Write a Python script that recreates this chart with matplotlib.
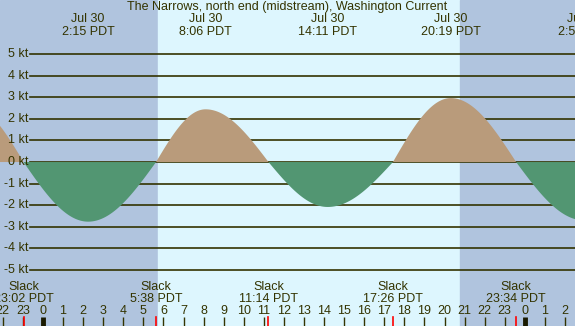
import numpy as np
import matplotlib
matplotlib.use('Agg')
import matplotlib.pyplot as plt
import matplotlib.transforms as mtransforms

# hours relative to Jul 30 00:00 PDT
event_hours = [-3.6, -0.967, 2.25, 5.633, 8.1, 11.233, 14.183, 17.433, 20.317, 23.567, 26.95]
event_speeds = [2.6, 0.0, -2.76, 0.0, 2.44, 0.0, -2.08, 0.0, 2.96, 0.0, -2.7]
event_labels = [None, 'Slack\n23:02 PDT', 'Jul 30\n2:15 PDT', 'Slack\n5:38 PDT',
                'Jul 30\n8:06 PDT', 'Slack\n11:14 PDT', 'Jul 30\n14:11 PDT', 'Slack\n17:26 PDT',
                'Jul 30\n20:19 PDT', 'Slack\n23:34 PDT', 'Jul 31\n2:57 PDT']
sunrise = 5.73
sunset = 20.77
ytick_vals = [5, 4, 3, 2, 1, 0, -1, -2, -3, -4, -5]

W, H = 575, 326
xmin, xmax = -2.14, 26.5
ymin, ymax = -7.59, 7.5

night = '#b0c4de'
day = '#ddf6fe'
flood = '#b99b7b'
ebb = '#529672'
ink = '#333300'

plt.rcParams['font.family'] = ['Liberation Sans', 'DejaVu Sans']

# smooth curve: quarter waves between slack and max events
t = np.linspace(xmin, xmax, 1200)
v = np.zeros_like(t)
for i in range(len(event_hours) - 1):
    t0, t1 = event_hours[i], event_hours[i + 1]
    v0, v1 = event_speeds[i], event_speeds[i + 1]
    m = (t >= t0) & (t <= t1)
    f = (t[m] - t0) / (t1 - t0)
    if v0 == 0:
        v[m] = v1 * np.sin(np.pi / 2 * f)
    else:
        v[m] = v0 * np.cos(np.pi / 2 * f)

fig = plt.figure(figsize=(W / 100, H / 100), dpi=100)
ax = fig.add_axes([0, 0, 1, 1])
ax.set_xlim(xmin, xmax)
ax.set_ylim(ymin, ymax)
ax.axis('off')

ax.axvspan(xmin, sunrise, color=night, zorder=0)
ax.axvspan(sunrise, sunset, color=day, zorder=0)
ax.axvspan(sunset, xmax, color=night, zorder=0)

def py(p):
    # pixel row from top -> axes fraction
    return 1 - p / H

trans = mtransforms.blended_transform_factory(ax.transData, ax.transAxes)
trans_y = mtransforms.blended_transform_factory(ax.transAxes, ax.transData)

# grid lines and kt labels
for k in ytick_vals:
    ax.plot([30 / W, 1], [k, k], transform=trans_y, color=ink, lw=1.2, zorder=1)
    ax.text(28 / W, k, '%d kt' % k, transform=trans_y, ha='right', va='center',
            fontsize=9, color=ink, zorder=5)

ax.fill_between(t, 0, v, where=v >= 0, interpolate=True, color=flood, lw=0, zorder=2)
ax.fill_between(t, 0, v, where=v <= 0, interpolate=True, color=ebb, lw=0, zorder=2)

ax.text(0.5, py(7), 'The Narrows, north end (midstream), Washington Current',
        transform=ax.transAxes, ha='center', va='center', fontsize=9, color=ink)

for h, s, lab in zip(event_hours, event_speeds, event_labels):
    if lab is None:
        continue
    l1, l2 = lab.split('\n')
    if s == 0:
        ax.text(h, py(287), l1, transform=trans, ha='center', va='center', fontsize=9, color=ink)
        ax.text(h, py(299), l2, transform=trans, ha='center', va='center', fontsize=9, color=ink)
        ax.plot([h, h], [py(317), py(326)], transform=trans, color='red', lw=1.2, zorder=4)
    else:
        ax.text(h, py(19), l1, transform=trans, ha='center', va='center', fontsize=9, color=ink)
        ax.text(h, py(32), l2, transform=trans, ha='center', va='center', fontsize=9, color=ink)

# hour ticks
for hr in np.arange(-2, 27):
    ax.text(hr, py(311), str(hr % 24), transform=trans, ha='center', va='center',
            fontsize=9, color=ink)
    lw = 3.5 if hr % 24 == 0 else 1.0
    col = '#1a1a00' if hr % 24 == 0 else ink
    ax.plot([hr, hr], [py(317), py(326)], transform=trans, color=col, lw=lw, zorder=3,
            solid_capstyle='butt')

fig.savefig('out.png', dpi=100)
